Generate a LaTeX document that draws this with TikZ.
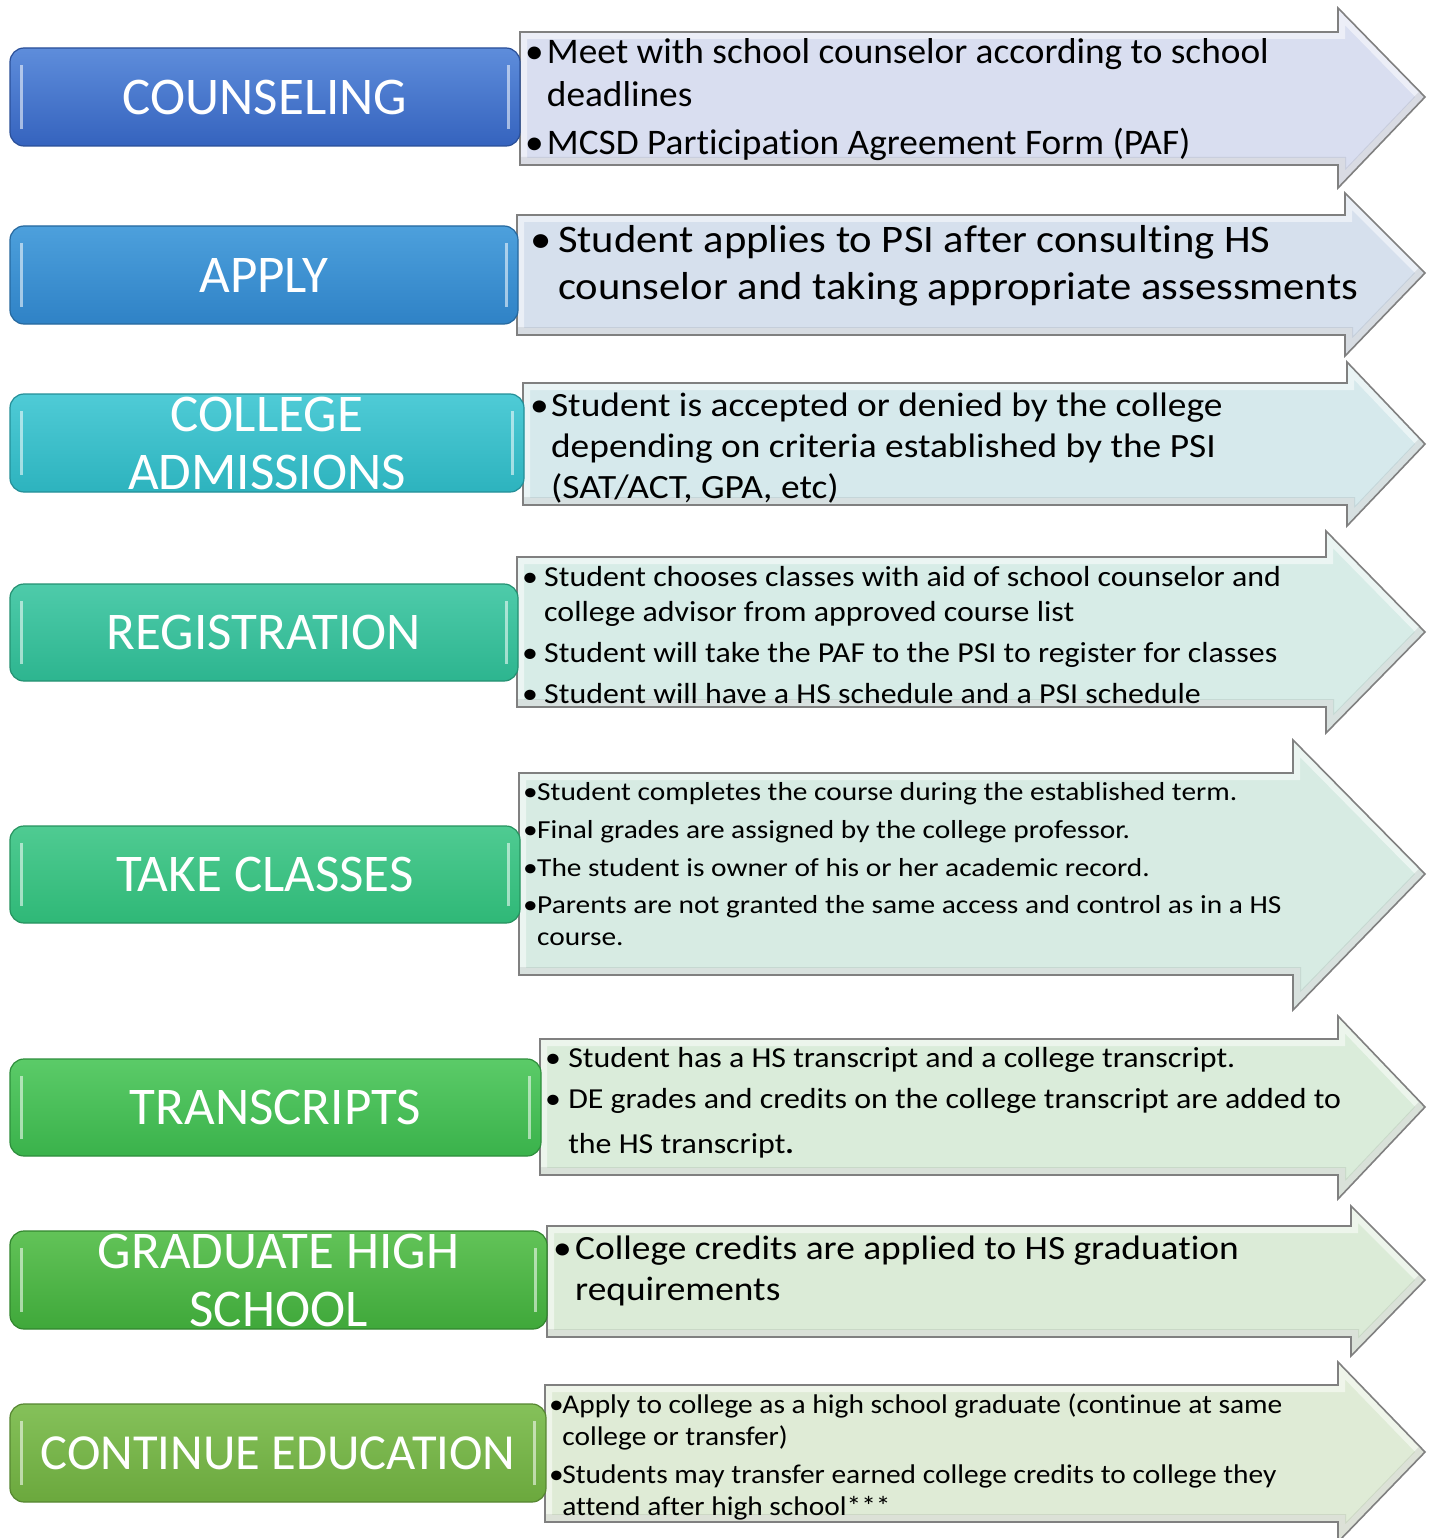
\documentclass[tikz,border=0pt]{standalone}
\usepackage{fontspec}
\setmainfont[Ligatures=NoCommon]{Carlito}
\definecolor{a1}{HTML}{D9DEF0}
\definecolor{a2}{HTML}{D6E0ED}
\definecolor{a3}{HTML}{D6E9EC}
\definecolor{a4}{HTML}{D7ECE7}
\definecolor{a5}{HTML}{D7EBE3}
\definecolor{a6}{HTML}{DAECDA}
\definecolor{a7}{HTML}{DBEBD7}
\definecolor{a8}{HTML}{DFEBD6}
\definecolor{t1}{HTML}{5E8DDB}\definecolor{b1}{HTML}{3563BE}
\definecolor{t2}{HTML}{4DA0DC}\definecolor{b2}{HTML}{2F82C6}
\definecolor{t3}{HTML}{4FCBD6}\definecolor{b3}{HTML}{2DB3BE}
\definecolor{t4}{HTML}{4ECBAA}\definecolor{b4}{HTML}{2DB58F}
\definecolor{t5}{HTML}{4FCB92}\definecolor{b5}{HTML}{2FB877}
\definecolor{t6}{HTML}{5BCB68}\definecolor{b6}{HTML}{3AB24B}
\definecolor{t7}{HTML}{62C358}\definecolor{b7}{HTML}{3FA83A}
\definecolor{t8}{HTML}{85C15A}\definecolor{b8}{HTML}{6BA83D}
\newcommand{\flowarrow}[8]{%
 \fill[#8] (#1,#2) -- (#4,#2) -- (#4,#5) -- (1425,#7) -- (#4,#6) -- (#4,#3) -- (#1,#3) -- cycle;
 \begin{scope}
 \clip (#1,#2) -- (#4,#2) -- (#4,#5) -- (1425,#7) -- (#4,#6) -- (#4,#3) -- (#1,#3) -- cycle;
 \draw[white,opacity=.5,line width=14] (#1,#2) -- (#4,#2) -- (#4,#5) -- (1425,#7) -- (#4,#6) -- (#4,#3) -- (#1,#3) -- cycle;
 \draw[black,opacity=.08,line width=16] (#1,#3) -- (#4,#3) -- (#4,#6) -- (1425,#7);
 \end{scope}
 \draw[arrowline] (#1,#2) -- (#4,#2) -- (#4,#5) -- (1425,#7) -- (#4,#6) -- (#4,#3) -- (#1,#3) -- cycle;}
\newcommand{\bevel}[1]{%
 \draw[white,opacity=.55,line width=2.5] ([xshift=12pt,yshift=-18pt]#1.north west) -- ([xshift=12pt,yshift=18pt]#1.south west);
 \draw[white,opacity=.55,line width=2.5] ([xshift=-12pt,yshift=-18pt]#1.north east) -- ([xshift=-12pt,yshift=18pt]#1.south east);}
\newcommand{\bu}[1]{\makebox[#1][l]{\textbullet}}
\begin{document}
\begin{tikzpicture}[x=1pt,y=-1pt,
  arrowline/.style={draw=black!50,line width=1.6,line join=miter},
  lbox/.style={rounded corners=14pt,draw=b#1!80!black,line width=1.2,top color=t#1,bottom color=b#1,
     text=white,inner sep=0pt,align=center,font=\fontsize{53}{58}\selectfont},
  ltext/.style={anchor=base west,inner sep=0pt,text=black}]
\useasboundingbox (0,0) rectangle (1435,1538);
\fill[white] (0,0) rectangle (1435,1538);
% arrows
\flowarrow{520}{32}{165}{1338}{8}{188}{97}{a1}
\flowarrow{517}{215}{335}{1345}{193}{356}{273}{a2}
\flowarrow{523}{383}{505}{1347}{362}{526}{444}{a3}
\flowarrow{517}{557}{707}{1326}{531}{733}{632}{a4}
\flowarrow{519}{773}{975}{1293}{740}{1010}{874}{a5}
\flowarrow{540}{1039}{1175}{1338}{1016}{1199}{1107}{a6}
\flowarrow{547}{1226}{1337}{1351}{1206}{1356}{1280}{a7}
\flowarrow{545}{1385}{1522}{1338}{1362}{1542}{1452}{a8}
% left boxes
\node[lbox=1,minimum width=510,minimum height=98] (counsel) at (265,97) {COUNSELING};
\node[lbox=2,minimum width=508,minimum height=98] (apply) at (264,275) {APPLY};
\node[lbox=3,minimum width=514,minimum height=98] (admit) at (267,443) {COLLEGE\\ADMISSIONS};
\node[lbox=4,minimum width=508,minimum height=97] (reg) at (264,632.5) {REGISTRATION};
\node[lbox=5,minimum width=510,minimum height=97] (take) at (265,874.5) {TAKE CLASSES};
\node[lbox=6,minimum width=531,minimum height=97] (trans) at (275.5,1107.5) {TRANSCRIPTS};
\node[lbox=7,minimum width=537,minimum height=98] (grad) at (278.5,1280) {GRADUATE HIGH\\SCHOOL};
\node[lbox=8,minimum width=536,minimum height=98,font=\fontsize{50.5}{58}\selectfont] (cont) at (278,1453) {CONTINUE EDUCATION};
\bevel{counsel}\bevel{apply}\bevel{admit}\bevel{reg}\bevel{take}\bevel{trans}\bevel{grad}\bevel{cont}
% texts
\node[ltext,font=\fontsize{36}{43}\selectfont] (txt1) at (525,64) {\scalebox{1.036}[1]{\begin{tabular}[t]{@{}l@{}l@{}}
\bu{21pt}&Meet with school counselor according to school\\
&deadlines\\[5pt]
\bu{21pt}&MCSD Participation Agreement Form (PAF)
\end{tabular}}};
\node[ltext,font=\fontsize{39}{47}\selectfont] (txt2) at (530,253) {\scalebox{1.093}[1]{\begin{tabular}[t]{@{}l@{}l@{}}
\bu{25.5pt}&Student applies to PSI after consulting HS\\
&counselor and taking appropriate assessments
\end{tabular}}};
\node[ltext,font=\fontsize{34}{41}\selectfont] (txt3) at (530,416) {\scalebox{1.1}[1]{\begin{tabular}[t]{@{}l@{}l@{}}
\bu{19pt}&Student is accepted or denied by the college\\
&depending on criteria established by the PSI\\
&(SAT/ACT, GPA, etc)
\end{tabular}}};
\node[ltext,font=\fontsize{29}{35}\selectfont] (txt4) at (522,586) {\scalebox{1.1}[1]{\begin{tabular}[t]{@{}l@{}l@{}}
\bu{20pt}&Student chooses classes with aid of school counselor and\\
&college advisor from approved course list\\[6pt]
\bu{20pt}&Student will take the PAF to the PSI to register for classes\\[6pt]
\bu{20pt}&Student will have a HS schedule and a PSI schedule
\end{tabular}}};
\node[ltext,font=\fontsize{26}{32}\selectfont] (txt5) at (523,800) {\scalebox{1.13}[1]{\begin{tabular}[t]{@{}l@{}l@{}}
\bu{12.4pt}&Student completes the course during the established term.\\[6pt]
\bu{12.4pt}&Final grades are assigned by the college professor.\\[6pt]
\bu{12.4pt}&The student is owner of his or her academic record.\\[5pt]
\bu{12.4pt}&Parents are not granted the same access and control as in a HS\\
&course.
\end{tabular}}};
\node[ltext,font=\fontsize{29}{41}\selectfont] (txt6) at (545,1067) {\scalebox{1.1}[1]{\begin{tabular}[t]{@{}l@{}l@{}}
\bu{21pt}&Student has a HS transcript and a college transcript.\\
\bu{21pt}&DE grades and credits on the college transcript are added to\\[4pt]
&the HS transcript\textbf{.}
\end{tabular}}};
\node[ltext,font=\fontsize{34}{41}\selectfont] (txt7) at (553,1259) {\scalebox{1.1}[1]{\begin{tabular}[t]{@{}l@{}l@{}}
\bu{20pt}&College credits are applied to HS graduation\\
&requirements
\end{tabular}}};
\node[ltext,font=\fontsize{27}{32}\selectfont] (txt8) at (549,1413) {\scalebox{1.09}[1]{\begin{tabular}[t]{@{}l@{}l@{}}
\bu{12pt}&Apply to college as a high school graduate (continue at same\\
&college or transfer)\\[6pt]
\bu{12pt}&Students may transfer earned college credits to college they\\
&attend after high school***
\end{tabular}}};
\end{tikzpicture}
\end{document}
